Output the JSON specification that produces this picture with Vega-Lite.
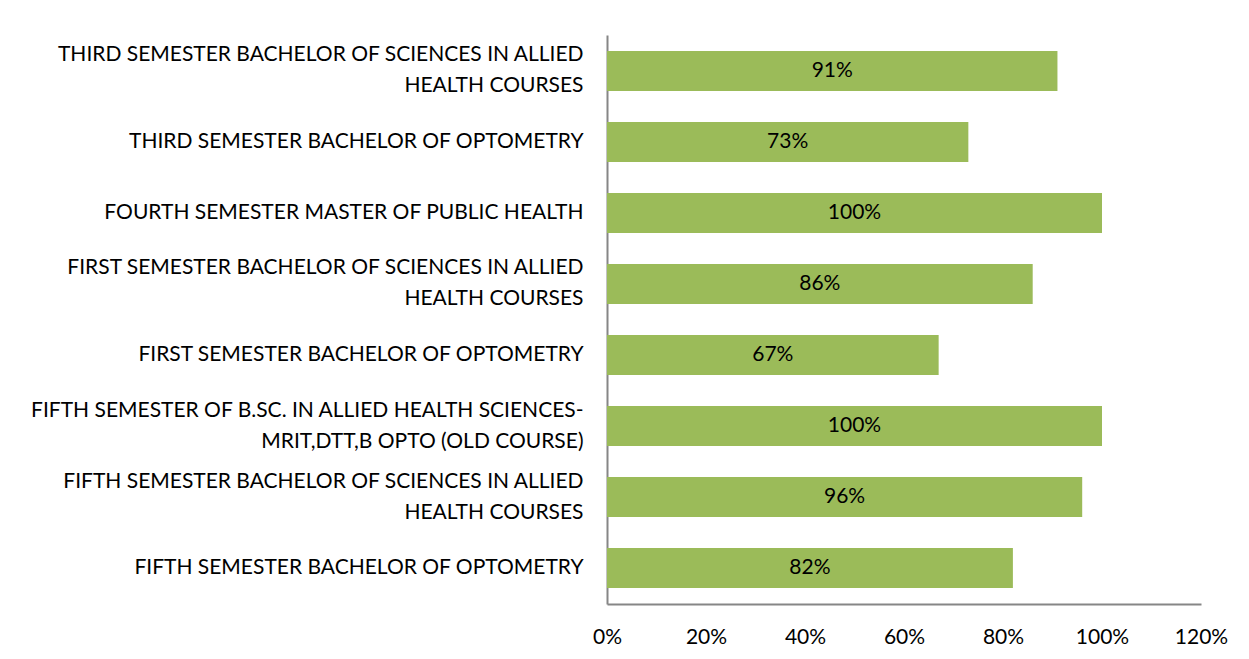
{
  "$schema": "https://vega.github.io/schema/vega-lite/v6.json",
  "autosize": "none",
  "width": 594,
  "height": 569,
  "padding": {"left": 607, "top": 35, "right": 48, "bottom": 55},
  "background": "white",
  "data": {
    "values": [
      {"course": "THIRD SEMESTER BACHELOR OF SCIENCES IN ALLIED|HEALTH COURSES", "value": 0.91},
      {"course": "THIRD SEMESTER BACHELOR OF OPTOMETRY", "value": 0.73},
      {"course": "FOURTH SEMESTER MASTER OF PUBLIC HEALTH", "value": 1.0},
      {"course": "FIRST SEMESTER BACHELOR OF SCIENCES IN ALLIED|HEALTH COURSES", "value": 0.86},
      {"course": "FIRST SEMESTER BACHELOR OF OPTOMETRY", "value": 0.67},
      {"course": "FIFTH SEMESTER OF B.SC. IN ALLIED HEALTH SCIENCES-|MRIT,DTT,B OPTO (OLD COURSE)", "value": 1.0},
      {"course": "FIFTH SEMESTER BACHELOR OF SCIENCES IN ALLIED|HEALTH COURSES", "value": 0.96},
      {"course": "FIFTH SEMESTER BACHELOR OF OPTOMETRY", "value": 0.82}
    ]
  },
  "encoding": {
    "y": {
      "field": "course",
      "type": "nominal",
      "sort": null,
      "scale": {"paddingInner": 0.437, "paddingOuter": 0.225},
      "axis": {
        "title": null,
        "labelExpr": "split(datum.label, '|')",
        "labelFont": "Lato",
        "labelFontSize": 21,
        "labelColor": "#000000",
        "labelLineHeight": 31,
        "labelBaseline": "middle",
        "labelOffset": {"condition": {"test": "indexof(datum.value, '|') >= 0", "value": -15.5}, "value": 0},
        "labelPadding": 24,
        "labelLimit": 600,
        "ticks": false,
        "domainColor": "#868686",
        "domainWidth": 2,
        "grid": false
      }
    }
  },
  "layer": [
    {
      "mark": {"type": "bar", "color": "#9BBB59"},
      "encoding": {
        "x": {
          "field": "value",
          "type": "quantitative",
          "scale": {"domain": [0, 1.2], "nice": false},
          "axis": {
            "title": null,
            "format": ".0%",
            "values": [0, 0.2, 0.4, 0.6, 0.8, 1.0, 1.2],
            "labelFont": "Lato",
            "labelFontSize": 21,
            "labelColor": "#000000",
            "labelPadding": 22,
            "ticks": false,
            "grid": false,
            "domainColor": "#868686",
            "domainWidth": 2,
            "labelFlush": false
          }
        }
      }
    },
    {
      "transform": [{"calculate": "datum.value / 2", "as": "mid"}],
      "mark": {"type": "text", "font": "Lato", "fontSize": 21, "color": "#000000", "align": "center", "baseline": "middle"},
      "encoding": {
        "x": {"field": "mid", "type": "quantitative"},
        "text": {"field": "value", "type": "quantitative", "format": ".0%"}
      }
    }
  ],
  "config": {"view": {"stroke": null}}
}
